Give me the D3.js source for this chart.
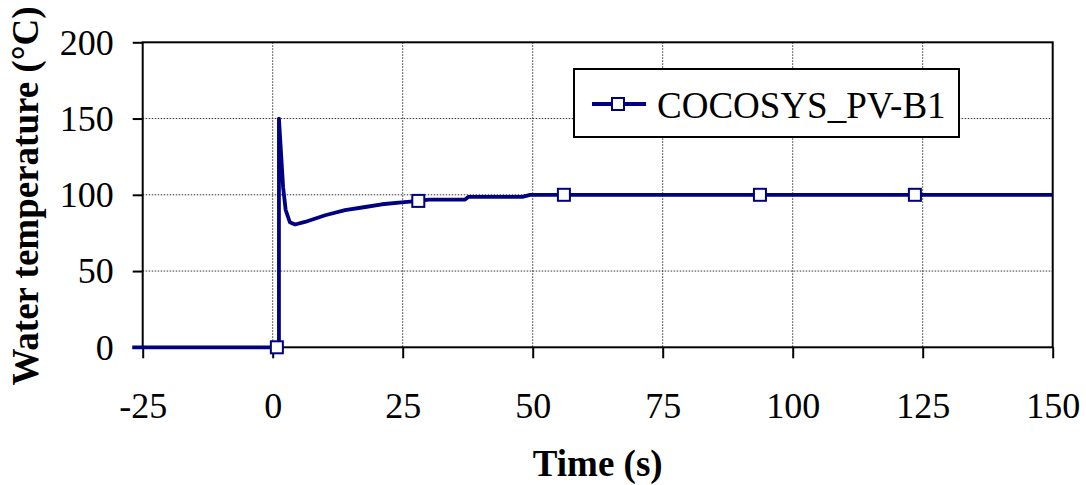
<!DOCTYPE html>
<html>
<head>
<meta charset="utf-8">
<script src="https://cdn.jsdelivr.net/npm/d3@7"></script>
<style>
    body { margin: 0; background: #fff; }
    text { font-family: "Liberation Serif", "Times New Roman", serif; }
</style>
</head>
<body>
<div id="chart"></div>
<script>
// simulated water temperature, COCOSYS_PV-B1
const times = [-27, 0.8, 1.2, 1.2, 2.0, 2.5, 3.3, 4.3, 6.2, 10.1, 13.9, 17.8, 21.0, 24.8, 28.0, 30.0, 37.0, 37.6, 48.0, 49.5, 150];
const temps = [0, 0, 0, 150, 105, 90, 82, 80.5, 82.2, 86.6, 89.9, 92, 93.8, 95.1, 96, 96.9, 96.9, 98.6, 98.6, 100, 100];

// marker positions (symbols only sit on some points)
const markerTimes = [0.8, 28, 56, 93.7, 123.5];
const markerTemps = [0, 96, 100, 100, 100];

const xTicks = [-25, 0, 25, 50, 75, 100, 125, 150];
const yTicks = [0, 50, 100, 150, 200];
const seriesName = "COCOSYS_PV-B1";

function main() {
    const width = 1086;
    const height = 485;
    const margin = { top: 42.3, right: 33.3, bottom: 137.7, left: 142.7 };
    const innerW = width - margin.left - margin.right;
    const innerH = height - margin.top - margin.bottom;
    const navy = "#000080";

    const svg = d3.select("#chart").append("svg")
        .attr("width", width)
        .attr("height", height);

    const g = svg.append("g")
        .attr("transform", "translate(" + margin.left + "," + margin.top + ")");

    const x = d3.scaleLinear().domain([-25, 150]).range([0, innerW]);
    const y = d3.scaleLinear().domain([0, 200]).range([innerH, 0]);

    // dotted grid
    g.append("g").selectAll("line")
        .data(xTicks.slice(1, -1))
        .enter().append("line")
        .attr("x1", d => x(d)).attr("x2", d => x(d))
        .attr("y1", 0).attr("y2", innerH)
        .attr("stroke", "#333").attr("stroke-width", 1)
        .attr("stroke-dasharray", "1.5,1.5");

    g.append("g").selectAll("line")
        .data(yTicks.slice(1, -1))
        .enter().append("line")
        .attr("x1", 0).attr("x2", innerW)
        .attr("y1", d => y(d)).attr("y2", d => y(d))
        .attr("stroke", "#333").attr("stroke-width", 1)
        .attr("stroke-dasharray", "1.5,1.5");

    // frame
    g.append("rect")
        .attr("width", innerW).attr("height", innerH)
        .attr("fill", "none").attr("stroke", "#000").attr("stroke-width", 2);

    // axes
    const xAxis = g.append("g")
        .attr("transform", "translate(0," + innerH + ")")
        .call(d3.axisBottom(x).tickValues(xTicks).tickSize(11).tickPadding(0).tickFormat(d => String(d)));
    xAxis.select(".domain").remove();
    xAxis.selectAll("line").attr("stroke", "#000").attr("stroke-width", 2);
    xAxis.selectAll("text")
        .attr("y", 71).attr("dy", 0)
        .style("font-size", "36px").attr("fill", "#000");

    const yAxis = g.append("g")
        .call(d3.axisLeft(y).tickValues(yTicks).tickSize(10).tickPadding(19).tickFormat(d => String(d)));
    yAxis.select(".domain").remove();
    yAxis.selectAll("line").attr("stroke", "#000").attr("stroke-width", 2);
    yAxis.selectAll("text")
        .attr("dy", "0.33em")
        .style("font-size", "36px").attr("fill", "#000");

    // series
    const data = times.map((t, i) => ({ t: t, v: temps[i] }));
    const markers = markerTimes.map((t, i) => ({ t: t, v: markerTemps[i] }));

    const line = d3.line()
        .x(d => x(d.t))
        .y(d => y(d.v));

    g.append("path")
        .datum(data)
        .attr("d", line)
        .attr("fill", "none")
        .attr("stroke", navy)
        .attr("stroke-width", 3.8)
        .attr("stroke-linejoin", "round");

    const ms = 12;
    g.append("g").selectAll("rect")
        .data(markers)
        .enter().append("rect")
        .attr("x", d => x(d.t) - ms / 2)
        .attr("y", d => y(d.v) - ms / 2)
        .attr("width", ms).attr("height", ms)
        .attr("fill", "#fff")
        .attr("stroke", navy)
        .attr("stroke-width", 2);

    // legend
    const legend = svg.append("g").attr("transform", "translate(574,69)");
    legend.append("rect")
        .attr("width", 385).attr("height", 68)
        .attr("fill", "#fff").attr("stroke", "#000").attr("stroke-width", 2);
    legend.append("line")
        .attr("x1", 18).attr("x2", 72).attr("y1", 35).attr("y2", 35)
        .attr("stroke", navy).attr("stroke-width", 3.8);
    legend.append("rect")
        .attr("x", 44 - 6).attr("y", 35 - 6)
        .attr("width", 12).attr("height", 12)
        .attr("fill", "#fff").attr("stroke", navy).attr("stroke-width", 2);
    legend.append("text")
        .attr("x", 83).attr("y", 49)
        .style("font-size", "37px")
        .text(seriesName);

    // axis titles
    svg.append("text")
        .attr("x", margin.left + innerW / 2)
        .attr("y", 476)
        .style("text-anchor", "middle")
        .style("font-size", "37px")
        .style("font-weight", "bold")
        .text("Time (s)");

    svg.append("text")
        .attr("transform", "translate(38,196) rotate(-90)")
        .style("text-anchor", "middle")
        .style("font-size", "37px")
        .style("font-weight", "bold")
        .text("Water temperature (°C)");
}

main();
</script>
</body>
</html>
